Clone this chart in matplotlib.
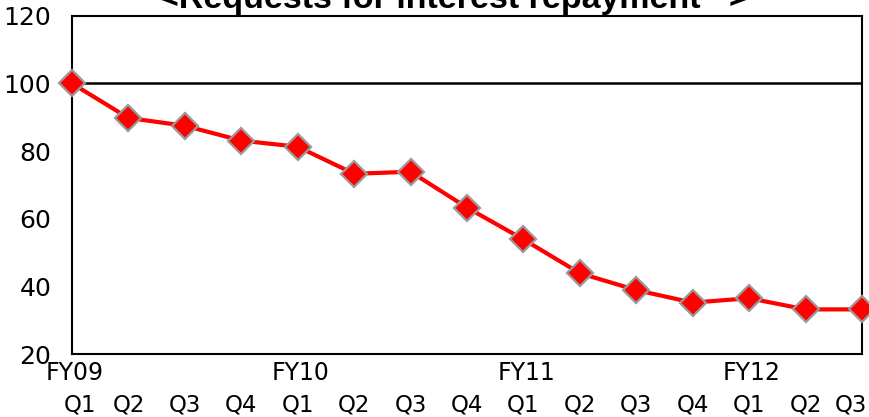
#!/usr/bin/env python3
# -*- coding: utf-8 -*-
"""
Requests for interest repayment - quarterly index (FY09 Q1 = 100)
"""

import matplotlib
matplotlib.use("Agg")
import matplotlib.pyplot as plt
import matplotlib.transforms as mtransforms

# ==========================================
# Data
# ==========================================
QUARTERS = ["Q1", "Q2", "Q3", "Q4",
            "Q1", "Q2", "Q3", "Q4",
            "Q1", "Q2", "Q3", "Q4",
            "Q1", "Q2", "Q3"]
FISCAL_YEARS = ["FY09", "FY10", "FY11", "FY12"]
FY_START_INDEX = [0, 4, 8, 12]
INDEX_VALUES = [100.0, 89.8, 87.5, 83.1,
                81.3, 73.3, 73.9, 63.3,
                53.9, 43.9, 38.9, 35.2,
                36.5, 33.2, 33.2]
Y_TICKS = [20, 40, 60, 80, 100, 120]
TITLE = "<Requests for interest repayment   >"


def main():
    fig = plt.figure(figsize=(8.69, 4.17), dpi=100)
    ax = fig.add_axes([0.0829, 0.151, 0.909, 0.811])

    x = list(range(len(INDEX_VALUES)))

    # reference line at 100
    ax.axhline(100, color="black", linewidth=1.8, zorder=1)

    ax.plot(x, INDEX_VALUES, color="red", linewidth=3.0,
            marker="D", markersize=13, markerfacecolor="red",
            markeredgecolor="#999999", markeredgewidth=1.6,
            clip_on=False, zorder=3)

    ax.set_xlim(0, len(INDEX_VALUES) - 1)
    ax.set_ylim(20, 120)
    ax.set_yticks(Y_TICKS)
    ax.set_yticklabels([str(v) for v in Y_TICKS], fontsize=18)
    ax.tick_params(axis="y", length=0, pad=15)
    ax.set_xticks([])

    for side in ["left", "right", "top", "bottom"]:
        ax.spines[side].set_linewidth(1.5)
        ax.spines[side].set_color("black")

    # two-row category labels under the axis
    trans = mtransforms.blended_transform_factory(ax.transData, fig.transFigure)
    last = len(QUARTERS) - 1
    for xi, q in zip(x, QUARTERS):
        ha = "center"
        t = trans
        if xi == 0:
            ha = "left"
            t = trans + mtransforms.ScaledTranslation(-8 / 100, 0, fig.dpi_scale_trans)
        elif xi == last:
            ha = "right"
            t = trans + mtransforms.ScaledTranslation(5 / 100, 0, fig.dpi_scale_trans)
        ax.text(xi, 1 - 405 / 417, q, transform=t, fontsize=16.5,
                ha=ha, va="center")
    for idx, fy in zip(FY_START_INDEX, FISCAL_YEARS):
        ax.text(idx + 0.05, 1 - 373 / 417, fy, transform=trans, fontsize=17,
                ha="center", va="center")

    # title partly cut by the top edge, as in the source
    fig.text(0.522, 1 - 8 / 417, TITLE, fontsize=24.5, fontweight="bold",
             family=["Liberation Sans", "DejaVu Sans"],
             ha="center", va="baseline")

    fig.savefig("out.png", dpi=100)
    plt.close(fig)


if __name__ == "__main__":
    main()
